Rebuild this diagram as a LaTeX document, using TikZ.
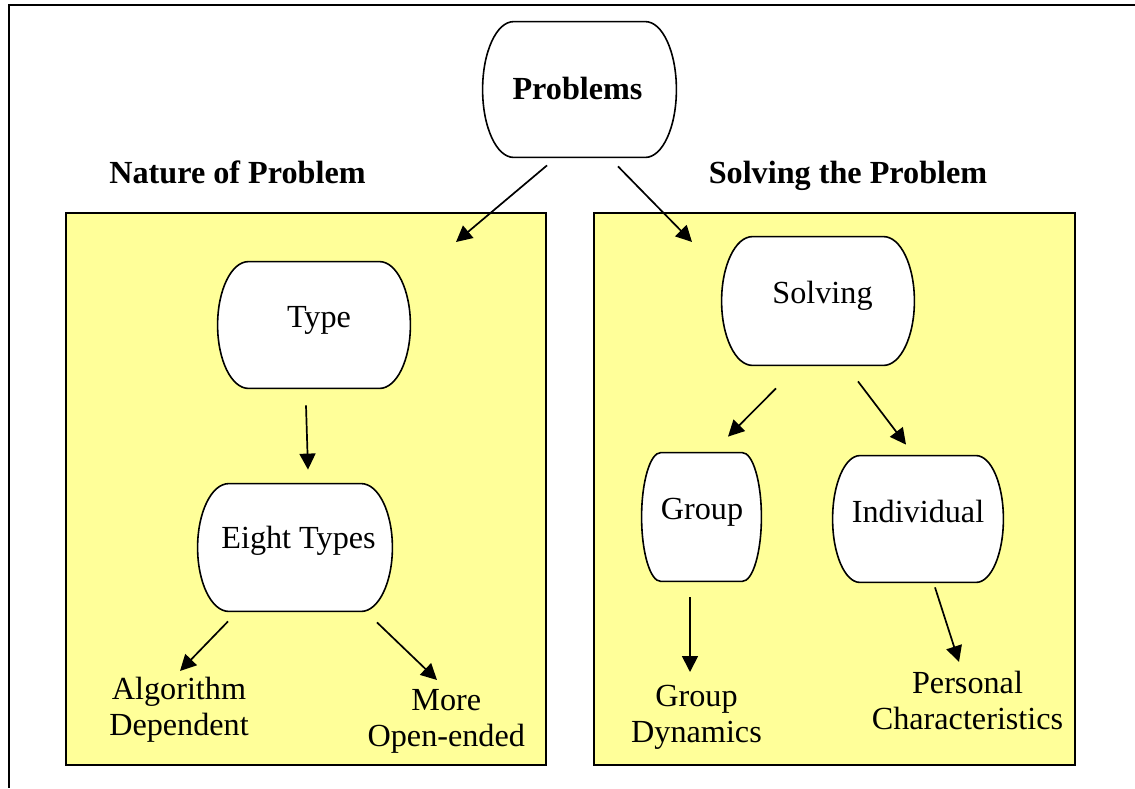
\documentclass[tikz,border=0pt]{standalone}
\usepackage{fontspec}
\setmainfont{Liberation Serif}
\usetikzlibrary{calc,arrows.meta}
\definecolor{panelyellow}{RGB}{255,255,153}

\tikzset{
  frame/.style={line width=1pt, black},
  panel/.style={draw=black, line width=1pt, fill=panelyellow, rectangle, inner sep=0pt},
  termbox/.style={rectangle, inner sep=0pt},
  termline/.style={draw=black, line width=0.8pt, fill=white},
  lbl/.style={inner sep=0pt, align=center, font=\fontsize{16.1}{18}\selectfont},
  titletext/.style={inner sep=0pt, font=\fontsize{16.1}{18}\selectfont\bfseries},
  link/.style={line width=0.85pt, -{Triangle[length=8pt,width=8pt]}}
}

% Outline of a terminator box: flat top and bottom, half-ellipse ends
\newcommand\termoutline[1]{%
  \draw[termline]
    ($(#1.north west)!0.16!(#1.north east)$) -- ($(#1.north west)!0.84!(#1.north east)$)
    .. controls ($(#1.north west)!0.9284!(#1.north east)$) and ($(#1.east)!0.5523!(#1.north east)$) .. (#1.east)
    .. controls ($(#1.east)!0.5523!(#1.south east)$) and ($(#1.south west)!0.9284!(#1.south east)$) .. ($(#1.south west)!0.84!(#1.south east)$)
    -- ($(#1.south west)!0.16!(#1.south east)$)
    .. controls ($(#1.south west)!0.0716!(#1.south east)$) and ($(#1.west)!0.5523!(#1.south west)$) .. (#1.west)
    .. controls ($(#1.west)!0.5523!(#1.north west)$) and ($(#1.north west)!0.0716!(#1.north east)$) .. ($(#1.north west)!0.16!(#1.north east)$)
    -- cycle;}

\begin{document}
\begin{tikzpicture}[x=0.5pt, y=-0.5pt]
\useasboundingbox (0,0) rectangle (1135,788);

% page frame (top and left edges)
\draw[frame] (1135,5) -- (8.5,5) -- (8.5,788);

% the two yellow panels
\node[panel, minimum width=240pt, minimum height=276pt] (lp) at (306,489) {};
\node[panel, minimum width=240.5pt, minimum height=276pt] (rp) at (834.5,489) {};

% panel headings
\node[titletext, anchor=base] (natureT) at (237.5,183) {Nature of Problem};
\node[titletext, anchor=base] (solveT) at (848,183) {Solving the Problem};

% terminator boxes
\node[termbox, minimum width=96.5pt, minimum height=67.5pt] (prob) at (579.5,89.5) {};
\node[termbox, minimum width=96pt, minimum height=63pt] (type) at (314,325) {};
\node[termbox, minimum width=97pt, minimum height=63.5pt] (eight) at (295,547.5) {};
\node[termbox, minimum width=96pt, minimum height=64pt] (solving) at (818,301) {};
\node[termbox, minimum width=59.5pt, minimum height=64pt] (group) at (701.5,517) {};
\node[termbox, minimum width=85pt, minimum height=63pt] (indiv) at (918,519) {};

\termoutline{prob}
\termoutline{type}
\termoutline{eight}
\termoutline{solving}
\termoutline{group}
\termoutline{indiv}

% box texts
\node[titletext, anchor=base] (probT) at (577.5,99) {Problems};
\node[lbl, anchor=base] (typeT) at (319,327) {Type};
\node[lbl, anchor=base] (eightT) at (298.5,548) {Eight Types};
\node[lbl, anchor=base] (solvingT) at (822.5,303) {Solving};
\node[lbl, anchor=base] (groupT) at (702,519) {Group};
\node[lbl, anchor=base] (indivT) at (918,522) {Individual};

% leaf texts
\node[lbl] (alg) at (179,709.7) {Algorithm\\Dependent};
\node[lbl] (more) at (446.3,721.5) {More\\Open-ended};
\node[lbl] (gdyn) at (696.5,717) {Group\\Dynamics};
\node[lbl] (pers) at (967.5,700) {Personal\\Characteristics};

% connectors
\draw[link] ([shift={(-32.5,8)}]prob.south) -- ([shift={(-91,30)}]lp.north east);
\draw[link] ([shift={(38.5,9)}]prob.south) -- ([shift={(99,30)}]rp.north west);
\draw[link] ([shift={(-8,17)}]type.south) -- ([shift={(13,-14)}]eight.north);
\draw[link] ([shift={(-67,10)}]eight.south) -- ([shift={(1,-38.7)}]alg.center);
\draw[link] ([shift={(82,11)}]eight.south) -- ([shift={(-9.3,-41.5)}]more.center);
\draw[link] ([shift={(-42,23)}]solving.south) -- ([shift={(26.5,-16)}]group.north);
\draw[link] ([shift={(40,16)}]solving.south) -- ([shift={(-12,-11)}]indiv.north);
\draw[link] ([shift={(-11.5,16)}]group.south) -- ([shift={(-6.5,-45)}]gdyn.center);
\draw[link] ([shift={(17,5)}]indiv.south) -- ([shift={(-8.5,-38)}]pers.center);
\end{tikzpicture}
\end{document}
